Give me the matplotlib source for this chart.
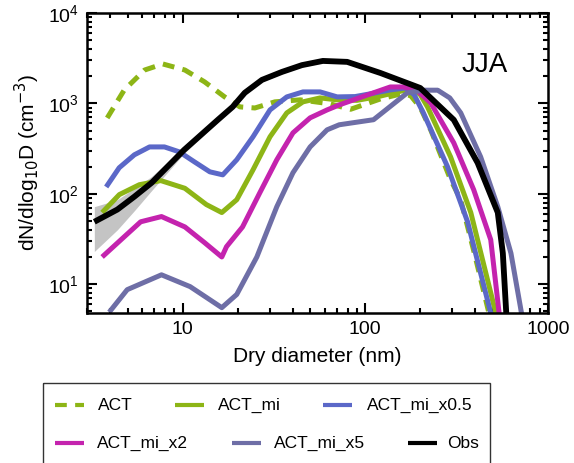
import matplotlib
matplotlib.use("Agg")
import matplotlib.pyplot as plt
from matplotlib.patches import Rectangle
from matplotlib.ticker import LogLocator, NullFormatter, FixedLocator, FixedFormatter

plt.rcParams['font.family'] = ['Liberation Sans', 'DejaVu Sans']
plt.rcParams['lines.scale_dashes'] = False

# ---- data (diameter nm, dN/dlog10D cm-3) ----
act_d = [3.87, 4.8, 6.2, 7.8, 10.3, 13.2, 17.0, 20.6, 24.9, 32, 44, 64, 83, 121, 156, 177, 200, 228, 293, 333, 400, 480]
act_n = [690, 1410, 2340, 2730, 2340, 1730, 1180, 915, 890, 1040, 1095, 990, 860, 1120, 1270, 1220, 900, 510, 143, 86, 20, 4.4]

mi_d = [3.63, 4.51, 5.8, 7.6, 10.3, 13.5, 16.4, 19.8, 24.3, 30.1, 37.2, 45.6, 56.6, 70.2, 90, 120, 160, 185, 200, 219, 293, 378, 522]
mi_n = [62, 98, 126, 140, 115, 76, 62, 86, 184, 427, 785, 1040, 1150, 1094, 1080, 1200, 1380, 1400, 1250, 915, 256, 62, 4.5]

x05_d = [3.82, 4.5, 5.45, 6.6, 7.96, 9.6, 11.6, 14.1, 16.6, 19.8, 24.3, 30.1, 37.2, 45.6, 56.6, 70.2, 88, 106, 137, 166, 185, 208, 282, 363, 490]
x05_n = [119, 194, 270, 330, 330, 291, 226, 175, 162, 238, 427, 847, 1180, 1340, 1340, 1180, 1190, 1274, 1410, 1480, 1250, 785, 199, 49, 4.5]

x2_d = [3.63, 4.8, 5.9, 7.67, 10.3, 13.2, 16.4, 17.4, 21.3, 26.5, 32.8, 40.2, 49.9, 61.8, 72, 111, 137, 162, 195, 228, 305, 392, 486, 542]
x2_n = [20, 33.5, 49, 56, 43, 28.8, 20, 26, 43, 103, 238, 472, 692, 847, 962, 1310, 1520, 1520, 1350, 1014, 366, 111, 31, 4.5]

x5_d = [3.97, 4.98, 7.67, 11.0, 16.4, 19.8, 25.5, 32.8, 40.2, 49.9, 61.8, 72, 111, 170, 210, 249, 290, 333, 428, 531, 627, 720]
x5_n = [4.9, 8.7, 12.7, 9.4, 5.5, 7.7, 20, 72, 171, 330, 510, 580, 660, 1310, 1400, 1400, 1150, 785, 256, 72, 22, 4.5]

obs_d = [3.29, 4.4, 5.45, 6.76, 10.2, 15.6, 18.8, 21.9, 27.2, 35, 45, 58.6, 79.6, 121, 200, 305, 412, 531, 566, 592]
obs_n = [49, 67, 93, 132, 306, 658, 915, 1310, 1820, 2230, 2650, 2950, 2880, 2170, 1480, 658, 220, 62, 22, 4.5]
obs_lo = [23, 40, 65, 108, 280, 620, 870, 1250, 1740, 2130, 2530, 2820, 2750, 2070, 1410, 620, 205, 57, 20, 4.1]
obs_hi = [72, 86, 115, 155, 330, 700, 960, 1370, 1900, 2330, 2770, 3080, 3010, 2270, 1550, 700, 236, 68, 24, 5.0]

green = '#8DB516'
blue = '#5B68C8'
magenta = '#C423AE'
slate = '#6E6EA6'

series = [
    ('ACT', act_d, act_n, dict(color=green, lw=3.6, dashes=(8.5, 6.0))),
    ('ACT_mi', mi_d, mi_n, dict(color=green, lw=3.6)),
    ('ACT_mi_x0.5', x05_d, x05_n, dict(color=blue, lw=3.6)),
    ('ACT_mi_x2', x2_d, x2_n, dict(color=magenta, lw=3.6)),
    ('ACT_mi_x5', x5_d, x5_n, dict(color=slate, lw=3.6)),
    ('Obs', obs_d, obs_n, dict(color='black', lw=4.2)),
]

fig = plt.figure(figsize=(5.74, 4.63), dpi=100)
ax = fig.add_axes([87 / 574, 1 - 313 / 463, (548 - 87) / 574, (313 - 13) / 463])

ax.fill_between(obs_d, obs_lo, obs_hi, color='#C4C4C4', lw=0, zorder=1)
for name, d, n, st in series:
    ax.plot(d, n, solid_capstyle='butt', dash_capstyle='butt',
            solid_joinstyle='round', dash_joinstyle='round',
            zorder=3 if name == 'Obs' else 2, **st)

ax.set_xscale('log')
ax.set_yscale('log')
ax.set_xlim(3.0, 1000)
ax.set_ylim(4.8, 1e4)

ax.xaxis.set_major_locator(FixedLocator([10, 100, 1000]))
ax.xaxis.set_major_formatter(FixedFormatter(['10', '100', '1000']))
ax.xaxis.set_minor_locator(LogLocator(base=10, subs=range(2, 10)))
ax.xaxis.set_minor_formatter(NullFormatter())
ax.yaxis.set_major_locator(LogLocator(base=10, numticks=10))
ax.yaxis.set_minor_locator(LogLocator(base=10, subs=range(2, 10), numticks=10))
ax.yaxis.set_minor_formatter(NullFormatter())

ax.tick_params(which='both', direction='in', top=True, right=True, width=1.5)
ax.tick_params(which='major', length=7, labelsize=14, pad=6)
ax.tick_params(which='minor', length=3.5)
for sp in ax.spines.values():
    sp.set_linewidth(1.8)

ax.set_xlabel('Dry diameter (nm)', fontsize=15, labelpad=6)
ax.set_ylabel('dN/dlog$_{10}$D (cm$^{-3}$)', fontsize=15, labelpad=4)
ax.text(0.862, 0.827, 'JJA', transform=ax.transAxes, fontsize=20, ha='center', va='center')

# ---- legend box below the plot, laid out in pixel units ----
lax = fig.add_axes([0, 0, 1, 1], zorder=-1)
lax.set_xlim(0, 574)
lax.set_ylim(463, 0)
lax.axis('off')
lax.add_patch(Rectangle((43, 383), 447, 95, fill=False, lw=1.0, edgecolor='#333333'))

legend_slots = [(405, 55, 98), (405, 175, 218), (405, 323, 367),
                (443, 55, 97), (443, 232, 274), (443, 408, 447)]
for (name, d, n, st), (ly, hx, tx) in zip(series, legend_slots):
    hst = dict(st)
    hst['lw'] = 3.0
    lax.plot([hx, hx + 29], [ly, ly], solid_capstyle='butt', dash_capstyle='butt', **hst)
    lax.text(tx, ly, name, fontsize=12.5, ha='left', va='center')

fig.savefig('out.png', dpi=100)
